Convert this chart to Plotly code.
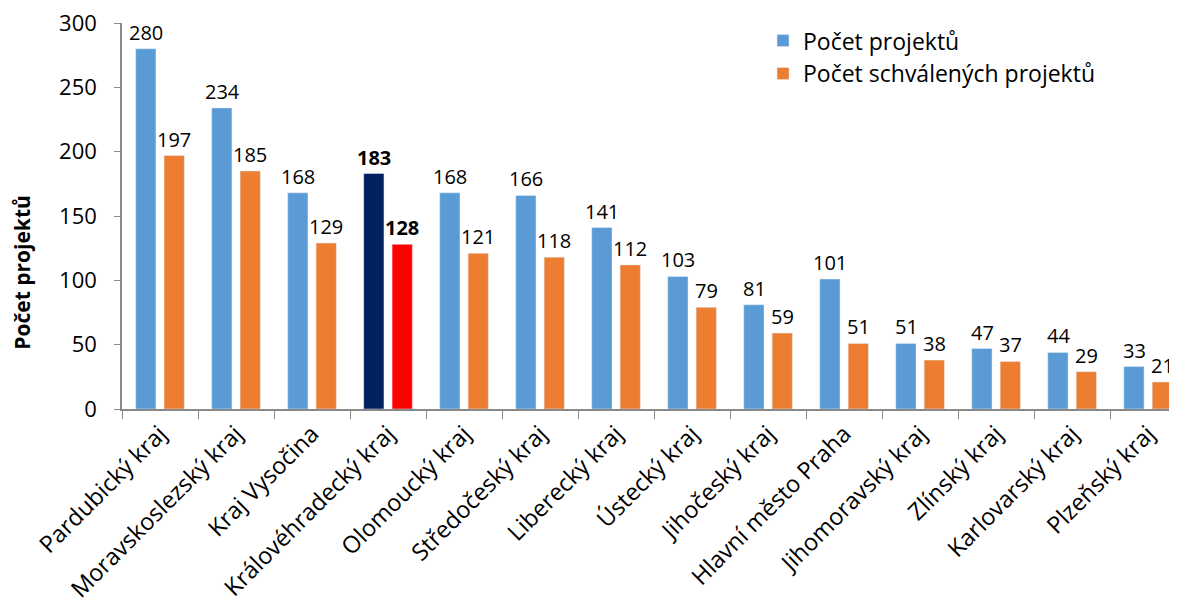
import plotly.graph_objects as go

# categories and values
regions = ["Pardubický kraj", "Moravskoslezský kraj", "Kraj Vysočina", "Královéhradecký kraj",
           "Olomoucký kraj", "Středočeský kraj", "Liberecký kraj", "Ústecký kraj",
           "Jihočeský kraj", "Hlavní město Praha", "Jihomoravský kraj", "Zlínský kraj",
           "Karlovarský kraj", "Plzeňský kraj"]
projects = [280, 234, 168, 183, 168, 166, 141, 103, 81, 101, 51, 47, 44, 33]
approved = [197, 185, 129, 128, 121, 118, 112, 79, 59, 51, 38, 37, 29, 21]
highlight = "Královéhradecký kraj"

FONT = "'Open Sans', sans-serif"

def colors(base, hl):
    return [hl if r == highlight else base for r in regions]

def labels(vals):
    return [f"<b>{v}</b>" if r == highlight else str(v) for r, v in zip(regions, vals)]

fig = go.Figure()
fig.add_trace(go.Bar(x=regions, y=projects, name="Počet projektů",
                     marker_color=colors("#5B9BD5", "#002060")))
fig.add_trace(go.Bar(x=regions, y=approved, name="Počet schválených projektů",
                     marker_color=colors("#ED7D31", "#FF0000")))

# value labels above bars (annotations so they don't get shrunk to bar width)
for vals, shift in [(projects, -14), (approved, 14)]:
    for r, v, t in zip(regions, vals, labels(vals)):
        fig.add_annotation(x=r, y=v, text=t, showarrow=False, xshift=shift,
                           yanchor="bottom", yshift=1, font=dict(size=20, color="black"))

# y axis title sits a bit below the middle, like in the original
fig.add_annotation(text="<b>Počet projektů</b>", xref="paper", yref="paper",
                   x=-0.095, y=0.355, xanchor="center", yanchor="middle",
                   textangle=-90, showarrow=False, font=dict(size=21, color="black"))

# page body has an 8px margin, so the figure is a bit smaller than the window
fig.update_layout(
    width=1169, height=596,
    margin=dict(l=114, r=0, t=15, b=195),
    plot_bgcolor="white", paper_bgcolor="white",
    font=dict(family=FONT, size=23, color="black"),
    barmode="group", bargap=0.253, bargroupgap=0.286,
    showlegend=True,
    legend=dict(x=0.6076, y=1.01, xanchor="left", yanchor="top",
                font=dict(size=23), bgcolor="rgba(0,0,0,0)",
                itemwidth=30, tracegroupgap=0),
)
fig.update_yaxes(range=[0, 300], dtick=50, showline=True, linecolor="#898989", linewidth=1.5,
                 ticks="outside", ticklen=6, tickcolor="#898989", showgrid=False, zeroline=False,
                 tickfont=dict(size=22), ticklabelstandoff=13, automargin=False,
                 ticklabeloverflow="allow")
fig.update_xaxes(range=[-0.5, 13.38], showline=True, linecolor="#898989", linewidth=1.5,
                 ticks="outside", tickson="boundaries", ticklen=8, tickcolor="#898989",
                 tickangle=-45, tickfont=dict(size=23.5), showgrid=False, automargin=False,
                 ticklabeloverflow="allow")

fig.write_html("out.html")
